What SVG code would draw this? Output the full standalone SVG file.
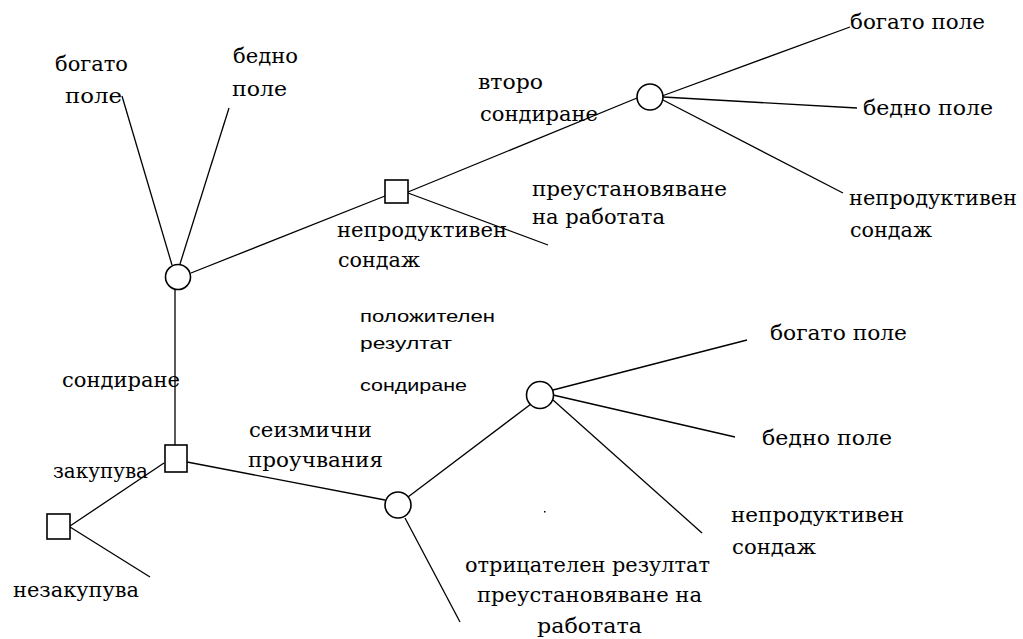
<svg xmlns="http://www.w3.org/2000/svg" width="1023" height="639" viewBox="0 0 1023 639">
<style>
.e{stroke:#000;stroke-width:1.3;fill:none}
.n{stroke:#000;stroke-width:1.6;fill:#fff}
.t{font-size:21px;fill:#000}
.s{font-family:'Liberation Sans',Arial,sans-serif;font-size:17px;fill:#000}
</style>
<rect width="1023" height="639" fill="#fff"/>
<g id="connectors">
<line class="e" x1="172" y1="265" x2="122" y2="96"/>
<line class="e" x1="180" y1="264" x2="229" y2="108"/>
<line class="e" x1="191" y1="273" x2="385" y2="196"/>
<line class="e" x1="175" y1="290" x2="175" y2="445"/>
<line class="e" x1="408" y1="192" x2="637" y2="98"/>
<line class="e" x1="408" y1="193" x2="548" y2="245"/>
<line class="e" x1="662" y1="96" x2="850" y2="27"/>
<line class="e" x1="663" y1="97" x2="857" y2="108"/>
<line class="e" x1="663" y1="100" x2="843" y2="193"/>
<line class="e" x1="164" y1="463" x2="70" y2="526"/>
<line class="e" x1="70" y1="527" x2="150" y2="577"/>
<line class="e" x1="187" y1="462" x2="385" y2="500"/>
<line class="e" x1="408" y1="497" x2="535" y2="401"/>
<line class="e" x1="405" y1="518" x2="460" y2="622"/>
<line class="e" x1="553" y1="390" x2="747" y2="340"/>
<line class="e" x1="553" y1="395" x2="735" y2="437"/>
<line class="e" x1="553" y1="400" x2="702" y2="533"/>
</g>
<g id="chance1"><circle class="n" cx="178" cy="277" r="12.5"/></g>
<g id="decision2"><rect class="n" x="385" y="180" width="23" height="23"/></g>
<g id="chance3"><circle class="n" cx="650" cy="97" r="13"/></g>
<g id="decision1"><rect class="n" x="165" y="445" width="22" height="27"/></g>
<g id="decision0"><rect class="n" x="47" y="514" width="23" height="25"/></g>
<g id="chance2"><circle class="n" cx="398" cy="505" r="13"/></g>
<g id="chance4"><circle class="n" cx="540" cy="395" r="13.5"/></g>
<g id="labels" font-family="'DejaVu Serif', 'Liberation Serif', serif">
<text class="t" x="55" y="71" textLength="73" lengthAdjust="spacingAndGlyphs">богато</text>
<text class="t" x="65" y="103" textLength="57" lengthAdjust="spacingAndGlyphs">поле</text>
<text class="t" x="233" y="63" textLength="65" lengthAdjust="spacingAndGlyphs">бедно</text>
<text class="t" x="232" y="96" textLength="55" lengthAdjust="spacingAndGlyphs">поле</text>
<text class="t" x="478" y="89" textLength="65" lengthAdjust="spacingAndGlyphs">второ</text>
<text class="t" x="480" y="121" textLength="118" lengthAdjust="spacingAndGlyphs">сондиране</text>
<text class="t" x="532" y="196" textLength="195" lengthAdjust="spacingAndGlyphs">преустановяване</text>
<text class="t" x="532" y="224" textLength="133" lengthAdjust="spacingAndGlyphs">на работата</text>
<text class="t" x="337" y="237" textLength="170" lengthAdjust="spacingAndGlyphs">непродуктивен</text>
<text class="t" x="338" y="267" textLength="82" lengthAdjust="spacingAndGlyphs">сондаж</text>
<text class="t" x="850" y="29" textLength="135" lengthAdjust="spacingAndGlyphs">богато поле</text>
<text class="t" x="863" y="115" textLength="130" lengthAdjust="spacingAndGlyphs">бедно поле</text>
<text class="t" x="849" y="205" textLength="168" lengthAdjust="spacingAndGlyphs">непродуктивен</text>
<text class="t" x="850" y="237" textLength="82" lengthAdjust="spacingAndGlyphs">сондаж</text>
<text class="s" x="360" y="322" textLength="135" lengthAdjust="spacingAndGlyphs">положителен</text>
<text class="s" x="360" y="349" textLength="92" lengthAdjust="spacingAndGlyphs">резултат</text>
<text class="s" x="360" y="391" textLength="107" lengthAdjust="spacingAndGlyphs">сондиране</text>
<text class="t" x="770" y="340" textLength="137" lengthAdjust="spacingAndGlyphs">богато поле</text>
<text class="t" x="762" y="445" textLength="130" lengthAdjust="spacingAndGlyphs">бедно поле</text>
<text class="t" x="731" y="522" textLength="173" lengthAdjust="spacingAndGlyphs">непродуктивен</text>
<text class="t" x="732" y="554" textLength="84" lengthAdjust="spacingAndGlyphs">сондаж</text>
<text class="t" x="62" y="387" textLength="118" lengthAdjust="spacingAndGlyphs">сондиране</text>
<text class="t" x="249" y="437" textLength="123" lengthAdjust="spacingAndGlyphs">сеизмични</text>
<text class="t" x="248" y="467" textLength="135" lengthAdjust="spacingAndGlyphs">проучвания</text>
<text class="t" x="53" y="478" textLength="95" lengthAdjust="spacingAndGlyphs">закупува</text>
<text class="t" x="13" y="597" textLength="126" lengthAdjust="spacingAndGlyphs">незакупува</text>
<text class="t" x="465" y="572" textLength="245" lengthAdjust="spacingAndGlyphs">отрицателен резултат</text>
<text class="t" x="477" y="602" textLength="225" lengthAdjust="spacingAndGlyphs">преустановяване на</text>
<text class="t" x="537" y="633" textLength="105" lengthAdjust="spacingAndGlyphs">работата</text>
</g>
<rect x="544" y="511" width="1.5" height="1.5" fill="#000"/>
</svg>
